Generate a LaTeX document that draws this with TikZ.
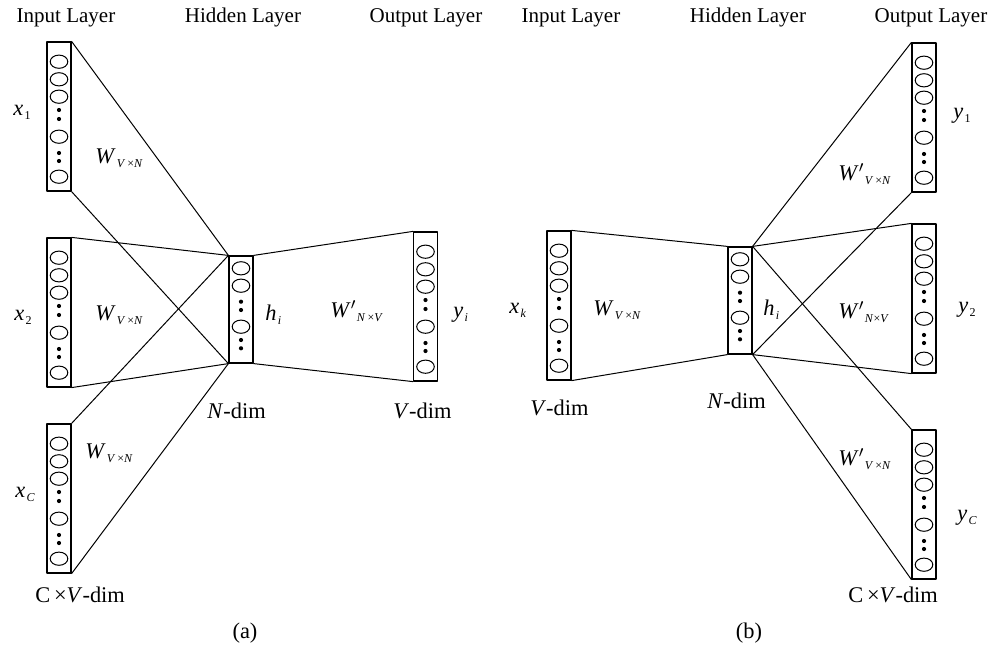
\documentclass[tikz,border=0pt]{standalone}
\usepackage{fontspec}
\setmainfont{Liberation Serif}

\tikzset{
	colbox/.style={draw, line width=0.6pt, minimum width=12pt, inner sep=0pt},
	link/.style={line width=0.5pt},
	lbl/.style={anchor=base west, inner sep=0pt, font=\fontsize{11.2}{13}\selectfont},
	title/.style={anchor=base, inner sep=0pt, font=\fontsize{10.5}{12}\selectfont},
}

% italic letter with a small, slightly lowered index
\newcommand{\sublbl}[2]{\textit{#1}\kern0.6pt\raisebox{-0.4ex}{\fontsize{6}{7}\selectfont #2}}
% same with a prime on the letter
\newcommand{\primelbl}[2]{\textit{#1}$'$\kern0.3pt\raisebox{-0.4ex}{\fontsize{6}{7}\selectfont #2}}

% long column of units: name, centre x, top y
\newcommand{\longcol}[3]{
	\node[colbox, minimum height=74.5pt] (#1) at (#2,#3+74.5) {};
	\foreach \dy in {19.7,37.3,54.7,94.7,134.7}
		\draw[line width=0.5pt] (#2,#3+\dy) ellipse (4.4pt and 3.3pt);
	\foreach \dy in {68,77,111,119}
		\fill (#2,#3+\dy) circle (1.05pt);
}
% short (hidden) column: name, centre x, top y
\newcommand{\shortcol}[3]{
	\node[colbox, minimum height=53.5pt] (#1) at (#2,#3+53.5) {};
	\foreach \dy in {12.3,29.7,70.7}
		\draw[line width=0.5pt] (#2,#3+\dy) ellipse (4.4pt and 3.3pt);
	\foreach \dy in {45.7,54,84,92.3}
		\fill (#2,#3+\dy) circle (1.05pt);
}

\begin{document}
\begin{tikzpicture}[x=0.5pt, y=-0.5pt, line cap=round, line join=round]
	\useasboundingbox (0,0) rectangle (991,648);
	
	% (a): several inputs, one output
	\longcol{inA}{59}{42}
	\longcol{inB}{59}{238}
	\longcol{inC}{59}{424}
	\shortcol{hidA}{241}{256}
	\longcol{outA}{425.5}{232}
	
	\foreach \n in {inA,inB,inC} {
		\draw[link] (\n.north east) -- (hidA.north west);
		\draw[link] (\n.south east) -- (hidA.south west);
	}
	\draw[link] (hidA.north east) -- (outA.north west);
	\draw[link] (hidA.south east) -- (outA.south west);
	
	% (b): one input, several outputs
	\longcol{inK}{559}{231}
	\shortcol{hidB}{740}{247}
	\longcol{outP}{924}{43}
	\longcol{outQ}{924}{224}
	\longcol{outR}{924}{430}
	
	\draw[link] (inK.north east) -- (hidB.north west);
	\draw[link] (inK.south east) -- (hidB.south west);
	\foreach \n in {outP,outQ,outR} {
		\draw[link] (hidB.north east) -- (\n.north west);
		\draw[link] (hidB.south east) -- (\n.south west);
	}
	
	% Layer titles
	\node[title] (tinA) at (66,23) {Input Layer};
	\node[title] (thidA) at (243,23) {Hidden Layer};
	\node[title] (toutA) at (426,23) {Output Layer};
	\node[title] (tinB) at (571,23) {Input Layer};
	\node[title] (thidB) at (748,23) {Hidden Layer};
	\node[title] (toutB) at (931,23) {Output Layer};
	
	% Labels of (a)
	\node[lbl] (xa) at (13,115) {\sublbl{x}{1}};
	\node[lbl] (xb) at (14,320) {\sublbl{x}{2}};
	\node[lbl] (xc) at (15,497) {\sublbl{x}{\textit{C}}};
	\node[lbl] (wa) at (95,163) {\sublbl{W}{\textit{V}\,×\textit{N}}};
	\node[lbl] (wb) at (95,320) {\sublbl{W}{\textit{V}\,×\textit{N}}};
	\node[lbl] (wc) at (85,458) {\sublbl{W}{\textit{V}\,×\textit{N}}};
	\node[lbl] (ha) at (265,320) {\sublbl{h}{\textit{i}}};
	\node[lbl] (wpa) at (330,317) {\primelbl{W}{\textit{N}\,×\textit{V}}};
	\node[lbl] (ya) at (453,317) {\sublbl{y}{\textit{i}}};
	\node[lbl] (nda) at (207,418) {\textit{N}-dim};
	\node[lbl] (vda) at (393,418) {\textit{V}-dim};
	\node[lbl] (cva) at (35,602) {C\,×\textit{V}-dim};
	\node[title, font=\fontsize{11.2}{13}\selectfont] (capa) at (245,638) {(a)};
	
	% Labels of (b)
	\node[lbl] (xk) at (509,313) {\sublbl{x}{\textit{k}}};
	\node[lbl] (wk) at (593,315) {\sublbl{W}{\textit{V}\,×\textit{N}}};
	\node[lbl] (hb) at (763,315) {\sublbl{h}{\textit{i}}};
	\node[lbl] (vdb) at (530,415) {\textit{V}-dim};
	\node[lbl] (ndb) at (707,408) {\textit{N}-dim};
	\node[lbl] (wpp) at (838,180) {\primelbl{W}{\textit{V}\,×\textit{N}}};
	\node[lbl] (wpq) at (838,318) {\primelbl{W}{\textit{N}×\textit{V}}};
	\node[lbl] (wpr) at (838,465) {\primelbl{W}{\textit{V}\,×\textit{N}}};
	\node[lbl] (yp) at (953,118) {\sublbl{y}{1}};
	\node[lbl] (yq) at (958,312) {\sublbl{y}{2}};
	\node[lbl] (yr) at (957,520) {\sublbl{y}{\textit{C}}};
	\node[lbl] (cvb) at (848,602) {C\,×\textit{V}-dim};
	\node[title, font=\fontsize{11.2}{13}\selectfont] (capb) at (749,638) {(b)};
\end{tikzpicture}
\end{document}
